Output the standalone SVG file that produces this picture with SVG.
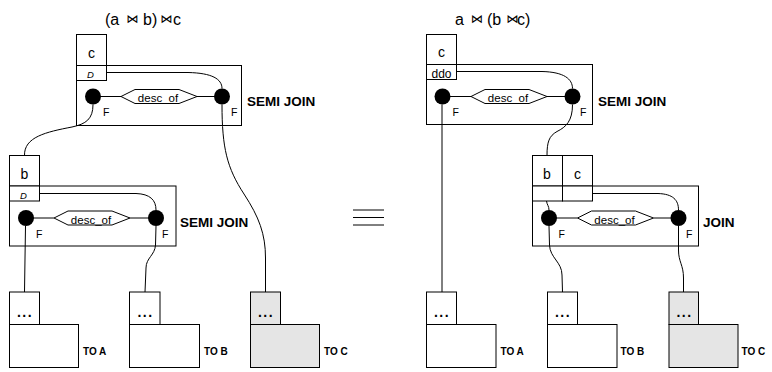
<svg xmlns="http://www.w3.org/2000/svg" width="772" height="372" viewBox="0 0 772 372">
<style>
  text { font-family: "Liberation Sans", Arial, Helvetica, sans-serif; fill: #000; }
  .box { fill: #fff; stroke: #000; stroke-width: 1; }
  .gray { fill: #e5e5e5; stroke: #000; stroke-width: 1; }
  .frame { fill: none; stroke: #000; stroke-width: 1; }
  .dot { fill: #000; }
  .wire { fill: none; stroke: #000; stroke-width: 1; }
  .title { font-size: 16px; }
  .bow { font-family: "DejaVu Sans", sans-serif; font-size: 12px; }
  .cell { font-size: 14px; text-anchor: middle; }
  .d { font-size: 9.5px; font-style: italic; text-anchor: middle; }
  .ddo { font-size: 12px; text-anchor: middle; }
  .pred { font-size: 11.5px; text-anchor: middle; }
  .f { font-size: 10.5px; }
  .op { font-size: 13.5px; font-weight: bold; }
  .to { font-size: 10px; font-weight: bold; }
  .dots { font-size: 14px; font-weight: bold; text-anchor: middle; letter-spacing: 1.5px; }
</style>

<!-- Titles -->
<g id="title-left">
  <text class="title" y="25"><tspan x="105">(a</tspan><tspan class="bow" x="126.5" y="22.5">⋈</tspan><tspan x="143" y="25">b)</tspan><tspan class="bow" x="160.5" y="22.5">⋈</tspan><tspan x="173" y="25">c</tspan></text>
</g>
<g id="title-right">
  <text class="title" y="25"><tspan x="455">a</tspan><tspan class="bow" x="471" y="22.5">⋈</tspan><tspan x="487" y="25">(b</tspan><tspan class="bow" x="506.5" y="22.5">⋈</tspan><tspan x="517" y="25">c)</tspan></text>
</g>

<!-- equivalence sign -->
<g id="equiv">
  <line class="wire" x1="353" y1="210" x2="384" y2="210"/>
  <line class="wire" x1="353" y1="217.5" x2="384" y2="217.5"/>
  <line class="wire" x1="353" y1="225" x2="384" y2="225"/>
</g>

<!-- LEFT: top semi join -->
<g id="L-semijoin-top">
  <rect class="frame" x="76.5" y="65.5" width="165" height="60"/>
  <circle class="dot" cx="93" cy="96.5" r="8"/>
  <circle class="dot" cx="222" cy="96.5" r="8"/>
  <line class="wire" x1="100" y1="96.5" x2="121" y2="96.5"/>
  <line class="wire" x1="197" y1="96.5" x2="215" y2="96.5"/>
  <polygon class="box" points="121,96.5 135,89.5 179,89.5 197,96.5 179,103.5 135,103.5"/>
  <text class="pred" x="158" y="102">desc_of</text>
  <text class="f" x="103" y="116">F</text>
  <text class="f" x="231" y="116">F</text>
  <text class="op" x="247" y="105.5">SEMI JOIN</text>
</g>
<g id="L-c">
  <rect class="box" x="76.5" y="34.5" width="30" height="31"/>
  <rect class="box" x="76.5" y="65.5" width="30" height="15"/>
  <text class="cell" x="91.5" y="57.5">c</text>
  <text class="d" x="90.5" y="78">D</text>
</g>

<!-- LEFT: lower semi join -->
<g id="L-semijoin-low">
  <rect class="frame" x="9.5" y="186" width="166.5" height="60"/>
  <circle class="dot" cx="26" cy="218" r="8"/>
  <circle class="dot" cx="156" cy="218" r="8"/>
  <line class="wire" x1="33" y1="218" x2="54" y2="218"/>
  <line class="wire" x1="130" y1="218" x2="149" y2="218"/>
  <polygon class="box" points="54,218 68,211 112,211 130,218 112,225 68,225"/>
  <text class="pred" x="91" y="223.5">desc_of</text>
  <text class="f" x="36" y="237.5">F</text>
  <text class="f" x="162" y="237.5">F</text>
  <text class="op" x="180" y="227">SEMI JOIN</text>
</g>
<g id="L-b">
  <rect class="box" x="9.5" y="155.5" width="30" height="30.5"/>
  <rect class="box" x="9.5" y="186" width="30" height="15"/>
  <text class="cell" x="24.5" y="178.5">b</text>
  <text class="d" x="23.5" y="198.5">D</text>
</g>

<!-- LEFT: bottom stores -->
<g id="L-toA">
  <rect class="box" x="9.5" y="324.5" width="69" height="43"/>
  <rect class="box" x="9.5" y="292" width="30" height="32.5"/>
  <text class="dots" x="25" y="317">...</text>
  <text class="to" x="83" y="355">TO A</text>
</g>
<g id="L-toB">
  <rect class="box" x="129.5" y="324.5" width="70" height="43"/>
  <rect class="box" x="129.5" y="292" width="30.5" height="32.5"/>
  <text class="dots" x="145.5" y="317">...</text>
  <text class="to" x="204" y="355">TO B</text>
</g>
<g id="L-toC">
  <rect class="gray" x="250.5" y="324.5" width="69" height="43"/>
  <rect class="gray" x="250.5" y="292" width="30" height="32.5"/>
  <text class="dots" x="266" y="317">...</text>
  <text class="to" x="324" y="355">TO C</text>
</g>

<!-- RIGHT: top semi join -->
<g id="R-semijoin">
  <rect class="frame" x="426.5" y="64.5" width="166" height="60"/>
  <circle class="dot" cx="442.5" cy="96.5" r="8"/>
  <circle class="dot" cx="572.5" cy="96.5" r="8"/>
  <line class="wire" x1="449" y1="96.5" x2="471" y2="96.5"/>
  <line class="wire" x1="547" y1="96.5" x2="566" y2="96.5"/>
  <polygon class="box" points="471,96.5 485,89.5 529,89.5 547,96.5 529,103.5 485,103.5"/>
  <text class="pred" x="508" y="102">desc_of</text>
  <text class="f" x="452.5" y="116">F</text>
  <text class="f" x="580" y="116">F</text>
  <text class="op" x="598" y="105.5">SEMI JOIN</text>
</g>
<g id="R-c">
  <rect class="box" x="426.5" y="34.5" width="30" height="30"/>
  <rect class="box" x="426.5" y="64.5" width="30" height="15"/>
  <text class="cell" x="441.5" y="57">c</text>
  <text class="ddo" x="441.5" y="77.5">ddo</text>
</g>

<!-- RIGHT: join -->
<g id="R-join">
  <rect class="frame" x="532.5" y="186" width="166" height="60"/>
  <circle class="dot" cx="549" cy="218" r="8"/>
  <circle class="dot" cx="678.5" cy="218" r="8"/>
  <line class="wire" x1="556" y1="218" x2="577.5" y2="218"/>
  <line class="wire" x1="653.5" y1="218" x2="672" y2="218"/>
  <polygon class="box" points="577.5,218 591.5,211 635.5,211 653.5,218 635.5,225 591.5,225"/>
  <text class="pred" x="614.5" y="223.5">desc_of</text>
  <text class="f" x="558.5" y="237.5">F</text>
  <text class="f" x="686" y="237.5">F</text>
  <text class="op" x="703" y="227">JOIN</text>
</g>
<g id="R-bc">
  <rect class="box" x="532.5" y="155.5" width="30" height="30.5"/>
  <rect class="box" x="562.5" y="155.5" width="30" height="30.5"/>
  <rect class="box" x="532.5" y="186" width="30" height="15"/>
  <rect class="box" x="562.5" y="186" width="30" height="15"/>
  <text class="cell" x="547" y="178.5">b</text>
  <text class="cell" x="577.5" y="178.5">c</text>
</g>

<!-- RIGHT: bottom stores -->
<g id="R-toA">
  <rect class="box" x="426.5" y="324.5" width="69.5" height="43"/>
  <rect class="box" x="426.5" y="292" width="30" height="32.5"/>
  <text class="dots" x="442" y="317">...</text>
  <text class="to" x="500.5" y="355">TO A</text>
</g>
<g id="R-toB">
  <rect class="box" x="547.5" y="324.5" width="69.5" height="43"/>
  <rect class="box" x="547.5" y="292" width="30" height="32.5"/>
  <text class="dots" x="563" y="317">...</text>
  <text class="to" x="620.5" y="355">TO B</text>
</g>
<g id="R-toC">
  <rect class="gray" x="669" y="324.5" width="69" height="43"/>
  <rect class="gray" x="669" y="292" width="29.5" height="32.5"/>
  <text class="dots" x="684.5" y="317">...</text>
  <text class="to" x="741.5" y="355">TO C</text>
</g>

<!-- Connectors -->
<g id="connectors">
  <!-- left tree -->
  <path class="wire" d="M106.5,72.5 L188,72.5 C212,73 222,79 222,88.5"/>
  <path class="wire" d="M93,104.5 C93,119 86,124 72,127 C46,132 24,137 24.5,155.5"/>
  <path class="wire" d="M222,104.5 C222,148 227,168 244,194 C259,217 265.5,234 265.5,258 L265.5,292"/>
  <path class="wire" d="M39.5,193.5 L136,193.5 C150,194 156,200 156,210"/>
  <path class="wire" d="M25.5,226 L24.5,292"/>
  <path class="wire" d="M156,226 L155.5,245 C155,255 146,258 146,268 L145,292"/>
  <!-- right tree -->
  <path class="wire" d="M456.5,71.5 L542,71.5 C564,72 572.5,79 572.5,88.5"/>
  <path class="wire" d="M442,104.5 L442,292"/>
  <path class="wire" d="M572.5,104.5 C572.5,121 566,127 557,131.5 C549,136 547,142 547,155.5"/>
  <path class="wire" d="M592.5,193.5 L658,193.5 C673,194 678.5,200 678.5,210"/>
  <path class="wire" d="M546.5,201 C547,205 549,206 549,210"/>
  <path class="wire" d="M549,226 L549.5,245 C550,258 562,262 562,275 L562.5,292"/>
  <path class="wire" d="M678.5,226 L678.5,250 C678.5,262 683.5,265 683.5,278 L683.5,292"/>
</g>
</svg>
